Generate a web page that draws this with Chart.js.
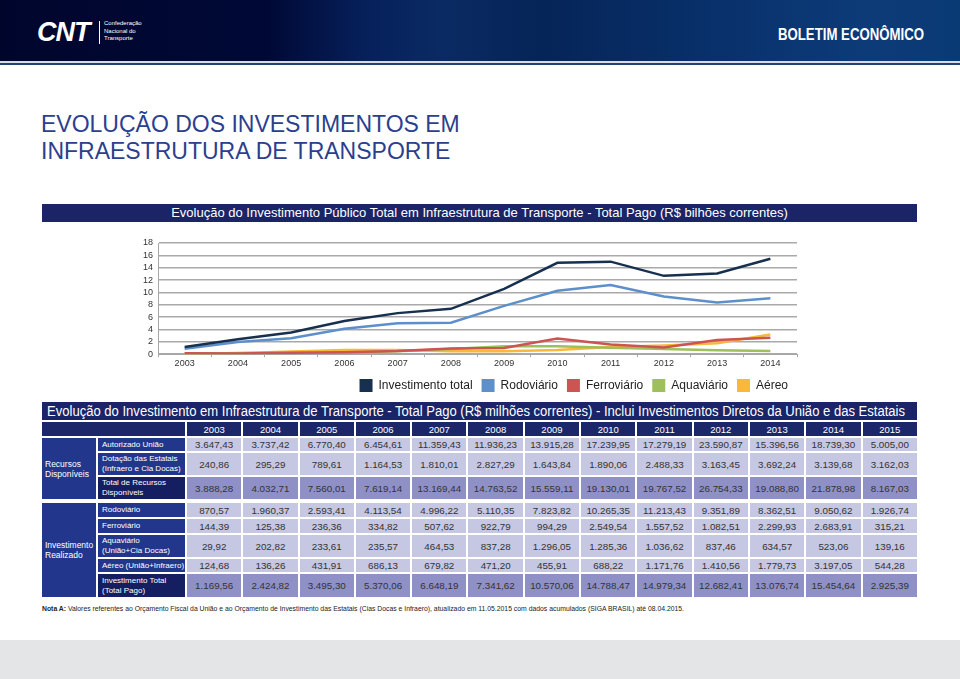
<!DOCTYPE html>
<html lang="pt-BR">
<head>
<meta charset="utf-8">
<title>Evolução dos investimentos em infraestrutura de transporte</title>
<script src="https://cdn.jsdelivr.net/npm/chart.js@4.4.1/dist/chart.umd.min.js"></script>
<style>
  html, body { margin: 0; padding: 0; }
  body { width: 960px; height: 679px; position: relative; overflow: hidden; background: #fff;
         font-family: "Liberation Sans", Arial, sans-serif; }
  #topo { position: absolute; left: 0; top: 0; width: 960px; height: 61px;
          background: linear-gradient(90deg, #00052c 0%, #000936 28%, #06205a 38%, #0a2a63 46%, #052457 56%, #082f68 72%, #0c3b78 90%, #0a3a74 100%);
          border-bottom: 2px solid #d8dce6; box-shadow: 0 2px 0 #27416f; }
  #logo { position: absolute; left: 37px; top: 17px; color: #fff; font-weight: bold; font-style: italic;
          font-size: 27px; letter-spacing: -1px; }
  #logo-sep { position: absolute; left: 99px; top: 21px; width: 1px; height: 23px; background: #fff; }
  #logo-txt { position: absolute; left: 104px; top: 20px; color: #fff; font-size: 6px; line-height: 7.5px; }
  #boletim { position: absolute; left: 778px; top: 25px; color: #fff; font-weight: bold; font-size: 17px;
             white-space: nowrap; transform-origin: left top; }
  #titulo { position: absolute; left: 41px; top: 111px; color: #2b3f8e; font-size: 23px; line-height: 27px; }
  .barra { position: absolute; left: 42px; width: 875px; background: #1a2466; color: #fff; white-space: nowrap; }
  #barra1 { top: 204px; height: 18px; font-size: 13px; line-height: 18px; text-align: center; }
  #barra2 { top: 402px; height: 18px; font-size: 14px; line-height: 18px; }
  #barra2 span { display: inline-block; margin-left: 5px; transform-origin: left center; }
  #grafico { position: absolute; left: 130px; top: 228px; width: 670px; height: 174px; }
  #tabela { position: absolute; left: 40px; top: 420px; border-collapse: separate; border-spacing: 2px;
            table-layout: fixed; width: 879px; }
  #tabela td { padding: 0; overflow: hidden; }
  #tabela .cab { background: #1b2769; color: #fff; font-size: 9.5px; text-align: center; }
  #tabela .grp { background: #22378c; color: #fff; font-size: 8.5px; line-height: 10px; padding-left: 3px; }
  #tabela .rot { background: #22378c; color: #fff; font-size: 8px; line-height: 10px; padding-left: 4px; }
  #tabela .rot.tot { background: #151e61; }
  #tabela .val { background: #c6c7e2; color: #333; font-size: 9.8px; text-align: center; }
  #tabela .val.tot { background: #8f90c6; }
  #nota { position: absolute; left: 42px; top: 605px; font-size: 7px; color: #222; white-space: nowrap;
          transform-origin: left top; }
  #rodape { position: absolute; left: 0; top: 640px; width: 960px; height: 39px; background: #e4e5e7; }
</style>
</head>
<body>
<div id="topo">
  <div id="logo">CNT</div>
  <div id="logo-sep"></div>
  <div id="logo-txt">Confederação<br>Nacional do<br>Transporte</div>
  <div id="boletim">BOLETIM ECONÔMICO</div>
</div>

<div id="titulo">EVOLUÇÃO DOS INVESTIMENTOS EM<br>INFRAESTRUTURA DE TRANSPORTE</div>

<div class="barra" id="barra1">Evolução do Investimento Público Total em Infraestrutura de Transporte - Total Pago (R$ bilhões correntes)</div>

<div id="grafico"><canvas id="chart"></canvas></div>

<div class="barra" id="barra2"><span>Evolução do Investimento em Infraestrutura de Transporte - Total Pago (R$ milhões correntes) - Inclui Investimentos Diretos da União e das Estatais</span></div>

<table id="tabela"></table>

<div id="nota"><b>Nota A:</b> Valores referentes ao Orçamento Fiscal da União e ao Orçamento de Investimento das Estatais (Cias Docas e Infraero), atualizado em 11.05.2015 com dados acumulados (SIGA BRASIL) até 08.04.2015.</div>

<div id="rodape"></div>

<script>
// grafico (R$ bilhoes)
const anosGrafico = ["2003", "2004", "2005", "2006", "2007", "2008", "2009", "2010", "2011", "2012", "2013", "2014"];
const totalBi = [1.17, 2.42, 3.50, 5.37, 6.65, 7.34, 10.57, 14.79, 14.98, 12.68, 13.08, 15.45];
const rodoviarioBi = [0.87, 1.96, 2.59, 4.11, 5.00, 5.11, 7.82, 10.27, 11.21, 9.35, 8.36, 9.05];
const ferroviarioBi = [0.14, 0.13, 0.24, 0.33, 0.51, 0.92, 0.99, 2.55, 1.56, 1.08, 2.30, 2.68];
const aquaviarioBi = [0.03, 0.20, 0.23, 0.24, 0.46, 0.84, 1.30, 1.29, 1.04, 0.84, 0.63, 0.52];
const aereoBi = [0.12, 0.14, 0.43, 0.69, 0.68, 0.47, 0.46, 0.69, 1.17, 1.41, 1.78, 3.20];

// tabela (R$ milhoes)
const anosTabela = ["2003", "2004", "2005", "2006", "2007", "2008", "2009", "2010", "2011", "2012", "2013", "2014", "2015"];
const autorizadoUniao = [3647.43, 3737.42, 6770.40, 6454.61, 11359.43, 11936.23, 13915.28, 17239.95, 17279.19, 23590.87, 15396.56, 18739.30, 5005.00];
const dotacaoEstatais = [240.86, 295.29, 789.61, 1164.53, 1810.01, 2827.29, 1643.84, 1890.06, 2488.33, 3163.45, 3692.24, 3139.68, 3162.03];
const totalRecursos = [3888.28, 4032.71, 7560.01, 7619.14, 13169.44, 14763.52, 15559.11, 19130.01, 19767.52, 26754.33, 19088.80, 21878.98, 8167.03];
const rodoviario = [870.57, 1960.37, 2593.41, 4113.54, 4996.22, 5110.35, 7823.82, 10265.35, 11213.43, 9351.89, 8362.51, 9050.62, 1926.74];
const ferroviario = [144.39, 125.38, 236.36, 334.82, 507.62, 922.79, 994.29, 2549.54, 1557.52, 1082.51, 2299.93, 2683.91, 315.21];
const aquaviario = [29.92, 202.82, 233.61, 235.57, 464.53, 837.28, 1296.05, 1285.36, 1036.62, 837.46, 634.57, 523.06, 139.16];
const aereo = [124.68, 136.26, 431.91, 686.13, 679.82, 471.20, 455.91, 688.22, 1171.76, 1410.56, 1779.73, 3197.05, 544.28];
const investimentoTotal = [1169.56, 2424.82, 3495.30, 5370.06, 6648.19, 7341.62, 10570.06, 14788.47, 14979.34, 12682.41, 13076.74, 15454.64, 2925.39];

function fmt(v) {
  const partes = v.toFixed(2).split(".");
  return partes[0].replace(/\B(?=(\d{3})+(?!\d))/g, ".") + "," + partes[1];
}

// ajusta a largura de um texto (fonte estreita do original)
function encaixar(el, largura) {
  const w = el.getBoundingClientRect().width;
  el.style.transform = "scaleX(" + (largura / w) + ")";
}

function linha(label, cor, dados) {
  return {
    label: label, data: dados, borderColor: cor, backgroundColor: cor,
    borderWidth: 2.5, pointRadius: 0, tension: 0
  };
}

new Chart(document.getElementById("chart"), {
  type: "line",
  data: {
    labels: anosGrafico,
    datasets: [
      linha("Investimento total", "#17304f", totalBi),
      linha("Rodoviário", "#5d8fca", rodoviarioBi),
      linha("Ferroviário", "#cc5451", ferroviarioBi),
      linha("Aquaviário", "#9dbf5c", aquaviarioBi),
      linha("Aéreo", "#f7b83b", aereoBi)
    ]
  },
  options: {
    responsive: true,
    maintainAspectRatio: false,
    animation: false,
    layout: { padding: { left: 8, right: 3, top: 15, bottom: 0 } },
    scales: {
      x: {
        offset: true,
        grid: { drawOnChartArea: false, drawTicks: true, tickLength: 3, color: "#a6a6a6", offset: true },
        border: { color: "#a6a6a6" },
        ticks: { color: "#333", font: { family: "Liberation Sans", size: 9 }, padding: 1 }
      },
      y: {
        min: 0, max: 18,
        ticks: { stepSize: 2, autoSkip: false, color: "#333", font: { family: "Liberation Sans", size: 9 }, padding: 5 },
        grid: { color: "#a9a9a9", lineWidth: 1.5, drawTicks: false },
        border: { color: "#a6a6a6" }
      }
    },
    plugins: {
      tooltip: { enabled: false },
      legend: {
        position: "bottom",
        align: "end",
        labels: {
          boxWidth: 13, boxHeight: 13, padding: 9,
          color: "#222", font: { family: "Liberation Sans", size: 12 },
          generateLabels: function (chart) {
            const itens = Chart.defaults.plugins.legend.labels.generateLabels(chart);
            itens.forEach(function (i) { i.lineWidth = 0; });
            return itens;
          }
        }
      }
    }
  }
});

// tabela
const linhasTabela = [
  { grupo: "Recursos Disponíveis", span: 3, rotulo: "Autorizado União", dados: autorizadoUniao, h: 13 },
  { rotulo: "Dotação das Estatais<br>(Infraero e Cia Docas)", dados: dotacaoEstatais, h: 22 },
  { rotulo: "Total de Recursos<br>Disponíveis", dados: totalRecursos, h: 22, tot: true },
  { espaco: true },
  { grupo: "Investimento Realizado", span: 5, rotulo: "Rodoviário", dados: rodoviario, h: 14 },
  { rotulo: "Ferroviário", dados: ferroviario, h: 14 },
  { rotulo: "Aquaviário<br>(União+Cia Docas)", dados: aquaviario, h: 22 },
  { rotulo: "Aéreo (União+Infraero)", dados: aereo, h: 13 },
  { rotulo: "Investimento Total<br>(Total Pago)", dados: investimentoTotal, h: 23, tot: true }
];

let html = '<colgroup><col style="width:54px"><col style="width:87px">';
anosTabela.forEach(function () { html += '<col>'; });
html += '</colgroup>';
html += '<tr style="height:14px"><td class="cab" colspan="2"></td>';
anosTabela.forEach(function (a) { html += '<td class="cab">' + a + '</td>'; });
html += '</tr>';
linhasTabela.forEach(function (l) {
  if (l.espaco) {
    html += '<tr style="height:0"><td colspan="15" style="height:0;padding:0"></td></tr>';
    return;
  }
  html += '<tr style="height:' + l.h + 'px">';
  if (l.grupo) {
    html += '<td class="grp" rowspan="' + l.span + '">' + l.grupo.replace(" ", "<br>") + '</td>';
  }
  html += '<td class="rot' + (l.tot ? ' tot' : '') + '">' + l.rotulo + '</td>';
  l.dados.forEach(function (v) {
    html += '<td class="val' + (l.tot ? ' tot' : '') + '">' + fmt(v) + '</td>';
  });
  html += '</tr>';
});
document.getElementById("tabela").innerHTML = html;

encaixar(document.getElementById("boletim"), 146);
encaixar(document.querySelector("#barra2 span"), 858);
encaixar(document.getElementById("nota"), 642);
</script>
</body>
</html>
